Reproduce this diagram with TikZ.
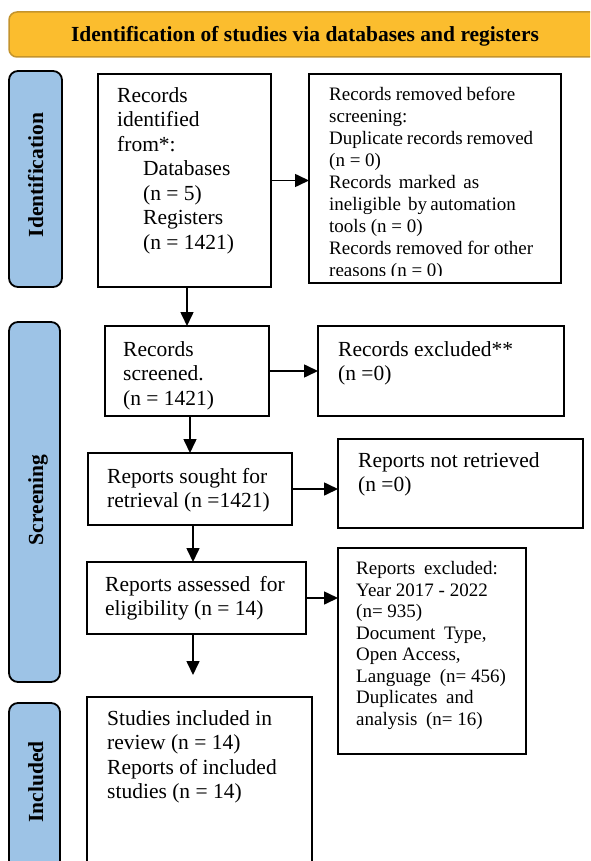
\documentclass[tikz,border=0pt]{standalone}
\usepackage{fontspec}
\setmainfont{Liberation Serif}
\usetikzlibrary{arrows.meta,fit}
\definecolor{hdrfill}{RGB}{251,189,46}
\definecolor{hdrline}{RGB}{196,148,44}
\definecolor{barfill}{RGB}{157,195,230}
\newcommand\setfs[2]{\fontsize{#1}{#2}\selectfont}
\newcommand\xsp{\hspace{4pt}}
\begin{document}
\begin{tikzpicture}[x=1pt,y=-1pt,
  box/.style={draw=black, line width=2pt, rectangle, inner sep=0pt, outer sep=0pt},
  hdr/.style={draw=hdrline, line width=1.5pt, fill=hdrfill, rounded corners=8pt, inner sep=0pt, outer sep=0pt},
  hdrtext/.style={anchor=base, inner sep=0pt, font=\bfseries\setfs{21.5}{24}},
  bar/.style={draw=black, line width=1.8pt, fill=barfill, rounded corners=9pt, inner sep=0pt, outer sep=0pt},
  barlabel/.style={rotate=90, anchor=base, inner sep=0pt, font=\bfseries\setfs{21.5}{24}},
  txtA/.style={anchor=north west, inner sep=0pt, align=left, font=\setfs{21.5}{24.5}},
  txtB/.style={anchor=north west, inner sep=0pt, align=left, font=\setfs{19}{22}},
  txtC/.style={anchor=north west, inner sep=0pt, align=left, font=\setfs{19}{21.5}},
  arr/.style={line width=1.6pt, -{Triangle[length=14pt,width=13pt]}}
]
\useasboundingbox (0,0) rectangle (590,861);
\clip (0,0) rectangle (590,861);

% header
\node[hdr, fit={(9,12) (600,57)}] (hdr) {};
\node[hdrtext] (hdrt) at (305,42) {Identification of studies via databases and registers};

% side bars
\node[bar, fit={(9,71) (62,287)}] (barI) {};
\node[barlabel] (labI) at (43,175) {Identification};
\node[bar, fit={(9,322) (60,682)}] (barS) {};
\node[barlabel] (labS) at (43,500) {Screening};
\node[bar, fit={(9,703) (60,900)}] (barN) {};
\node[barlabel] (labN) at (43,782) {Included};

% boxes
\node[box, fit={(98,74) (271,287)}] (b1) {};
\node[box, fit={(309,74) (561,283)}] (b2) {};
\node[box, fit={(105,326) (269,416)}] (b3) {};
\node[box, fit={(318,326) (564,416)}] (b4) {};
\node[box, fit={(88,453) (292,525)}] (b5) {};
\node[box, fit={(338,439) (583,528)}] (b6) {};
\node[box, fit={(87,562) (306,634)}] (b7) {};
\node[box, fit={(338,548) (526,754)}] (b8) {};
\node[box, fit={(87,697) (312,900)}] (b9) {};

% texts
\node[txtA] (t1) at (117,84.85) {\strut Records\\identified\\from*:\\\hspace*{26pt}Databases\\\hspace*{26pt}(n = 5)\\\hspace*{26pt}Registers\\\hspace*{26pt}(n = 1421)};
\begin{scope}
\clip (309,74) rectangle (561,275);
\node[txtB] (t2) at (329,84.6) {\strut\makebox[186pt][s]{Records removed before}\\screening:\\\makebox[204pt][s]{Duplicate records removed}\\(n = 0)\\\makebox[150pt][s]{Records marked as}\\\makebox[183pt][s]{ineligible\xsp{} by automation}\\tools (n = 0)\\\makebox[204pt][s]{Records removed for other}\\reasons (n = 0)};
\end{scope}
\node[txtA] (t3) at (123,338.85) {\strut Records\\screened.\\(n = 1421)};
\node[txtA] (t4) at (338,338.85) {\strut Records excluded**\\(n =0)};
\node[txtA] (t5) at (107,465.85) {\strut Reports sought for\\retrieval (n =1421)};
\node[txtA] (t6) at (358,449.85) {\strut Reports not retrieved\\(n =0)};
\node[txtA] (t7) at (105,573.85) {\strut Reports assessed\xsp{} for\\eligibility (n = 14)};
\node[txtC] (t8) at (356,559.45) {\strut Reports\xsp{} excluded:\\Year 2017 - 2022\\(n= 935)\\Document\xsp{} Type,\\Open Access,\\Language\xsp{} (n= 456)\\Duplicates\xsp{} and\\analysis\xsp{} (n= 16)};
\node[txtA] (t9) at (107,707.85) {\strut Studies included in\\review (n = 14)\\Reports of included\\studies (n = 14)};

% connectors
\coordinate (e7) at (193,675);
\draw[arr] (b1.east) -- (b1.east -| b2.west);
\draw[arr] (b1.south -| b3.north) -- (b3.north);
\draw[arr] (b3.east) -- (b3.east -| b4.west);
\draw[arr] (b3.south -| b5.north) -- (b5.north);
\draw[arr] (b5.east) -- (b5.east -| b6.west);
\draw[arr] (b5.south -| e7) -- (b7.north -| e7);
\draw[arr] (b7.east) -- (b7.east -| b8.west);
\draw[arr] (b7.south -| e7) -- (e7);
\end{tikzpicture}
\end{document}
